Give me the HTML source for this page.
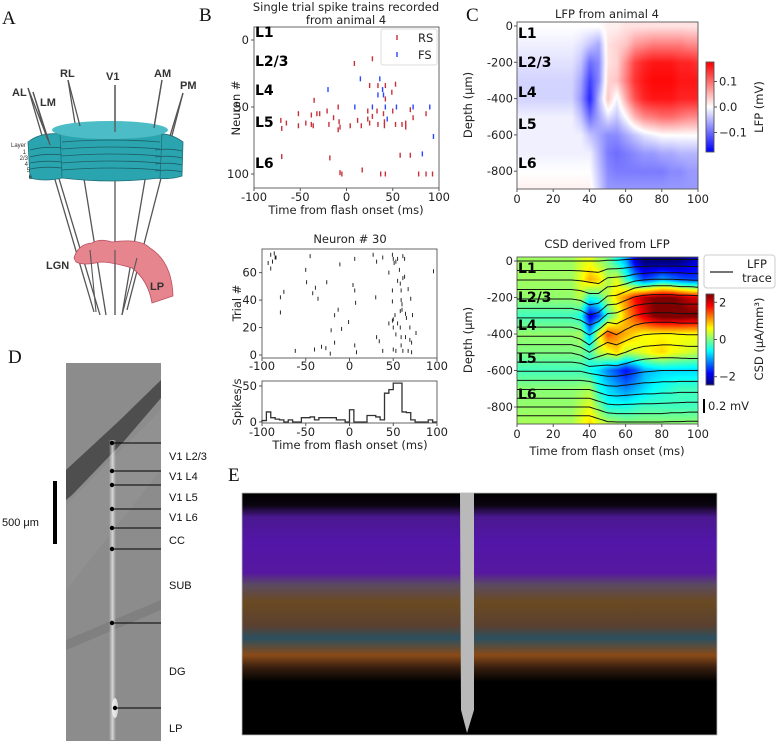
<!DOCTYPE html>
<html><head><meta charset="utf-8">
<style>
body{margin:0;background:#fff;width:781px;height:741px;overflow:hidden;position:relative;font-family:"DejaVu Sans","Liberation Sans",sans-serif}
canvas{position:absolute}
svg{position:absolute;left:0;top:0}
.t{font-size:11.5px;fill:#222}
.lab{font-size:14px;font-weight:bold;fill:#000}
.pl{font-family:"Liberation Serif",serif;font-size:19px;fill:#111}
.an{font-size:11px;fill:#111;font-family:"Liberation Sans",sans-serif}
</style></head><body>
<canvas id="lfp" width="181" height="167" style="left:517px;top:22px"></canvas>
<canvas id="lfpcb" width="8" height="90" style="left:706px;top:62px"></canvas>
<canvas id="csd" width="181" height="167" style="left:517px;top:257px"></canvas>
<canvas id="csdcb" width="8" height="91" style="left:706px;top:294px"></canvas>
<svg id="s" width="781" height="741" xmlns="http://www.w3.org/2000/svg">
<defs>
<linearGradient id="eg" x1="0" y1="0" x2="0" y2="1">
<stop offset="0" stop-color="#000"/>
<stop offset="0.05" stop-color="#0a0410"/>
<stop offset="0.1" stop-color="#4a1890"/>
<stop offset="0.2" stop-color="#5216a8"/>
<stop offset="0.33" stop-color="#5618a0"/>
<stop offset="0.38" stop-color="#5a4a60"/>
<stop offset="0.45" stop-color="#6a4a22"/>
<stop offset="0.55" stop-color="#5a4030"/>
<stop offset="0.6" stop-color="#2a5060"/>
<stop offset="0.67" stop-color="#8a4a18"/>
<stop offset="0.72" stop-color="#3a2010"/>
<stop offset="0.78" stop-color="#000"/>
<stop offset="1" stop-color="#000"/>
</linearGradient>
<linearGradient id="dg" x1="0" y1="0" x2="1" y2="0">
<stop offset="0" stop-color="#e0e0e0" stop-opacity="0"/><stop offset="0.5" stop-color="#e8e8e8" stop-opacity="0.8"/><stop offset="1" stop-color="#e0e0e0" stop-opacity="0"/>
</linearGradient>
</defs>

<!-- Panel A -->
<g>
<text class="pl" x="2" y="24">A</text>
<g stroke="#555" stroke-width="1.3">
<line x1="28" y1="88" x2="94" y2="312"/><line x1="33" y1="92" x2="100" y2="315"/>
<line x1="68" y1="80" x2="106" y2="315"/><line x1="115" y1="85" x2="115" y2="315"/>
<line x1="162" y1="80" x2="122" y2="315"/><line x1="183" y1="93" x2="127" y2="310"/>
</g>
<path d="M28,142 Q40,132 62,134 L62,178 Q45,182 30,178 Z" fill="#2aa5b0" stroke="#1f6f78" stroke-width="0.8"/>
<path d="M153,134 Q170,132 183,142 L182,176 Q170,180 155,178 Z" fill="#2aa5b0" stroke="#1f6f78" stroke-width="0.8"/>
<path d="M60,134 Q112,118 162,134 L160,178 Q112,184 62,178 Z" fill="#2aa5b0" stroke="#1f6f78" stroke-width="0.8"/>
<ellipse cx="110" cy="130" rx="58" ry="9" fill="#4cbcc6"/>
<g stroke="#1d5f66" stroke-width="0.8" fill="none">
<path d="M30,150 Q45,146 62,148"/><path d="M30,157 Q45,153 62,155"/><path d="M30,163 Q45,160 62,162"/><path d="M30,169 Q45,166 62,168"/>
<path d="M62,142 Q112,138 160,142"/><path d="M62,149 Q112,145 160,149"/><path d="M62,156 Q112,152 160,156"/><path d="M62,163 Q112,159 160,163"/><path d="M62,170 Q112,166 160,170"/>
<path d="M155,150 Q170,148 182,151"/><path d="M155,157 Q170,155 182,158"/><path d="M155,164 Q170,162 182,165"/><path d="M155,171 Q170,169 182,172"/>
</g>
<g stroke="#555" stroke-width="1.3">
<line x1="115" y1="132" x2="115" y2="85"/><line x1="80" y1="126" x2="68" y2="80"/><line x1="154" y1="128" x2="162" y2="80"/><line x1="170" y1="136" x2="183" y2="93"/><line x1="48" y1="140" x2="28" y2="88"/><line x1="50" y1="145" x2="33" y2="92"/>
</g>
<path d="M74,258 Q78,244 92,243 Q100,238 112,242 Q140,238 150,248 Q172,262 173,296 L152,303 Q148,280 132,268 Q112,262 100,262 Q84,266 76,262 Z" fill="#e7858e" stroke="#b85060" stroke-width="0.8"/>
<g stroke="#555" stroke-width="1.1"><line x1="115" y1="250" x2="115" y2="315"/><line x1="90" y1="250" x2="96" y2="312"/><line x1="137" y1="258" x2="122" y2="315"/></g>
<g font-family="Liberation Sans,sans-serif" font-weight="bold" font-size="11" fill="#333">
<text x="60" y="77">RL</text><text x="106" y="80">V1</text><text x="154" y="77">AM</text><text x="180" y="89">PM</text><text x="12" y="96">AL</text><text x="40" y="106">LM</text><text x="46" y="269">LGN</text><text x="150" y="290">LP</text>
</g>
<g font-family="Liberation Sans,sans-serif" font-size="6" fill="#333" text-anchor="end">
<text x="26" y="147">Layer</text><text x="26" y="154">1</text><text x="28" y="160">2/3</text><text x="28" y="166">4</text><text x="30" y="172">5</text><text x="32" y="179">6</text>
</g>
</g>

<!-- Panel B static -->
<text class="pl" x="199" y="21">B</text>
<text class="t" x="346" y="11" text-anchor="middle" font-size="11.5">Single trial spike trains recorded</text>
<text class="t" x="346" y="24" text-anchor="middle" font-size="11.5">from animal 4</text>
<text class="t" transform="translate(240,108) rotate(-90)" text-anchor="middle">Neuron #</text>
<text class="t" x="346" y="214" text-anchor="middle">Time from flash onset (ms)</text>
<text class="t" x="350" y="243" text-anchor="middle" font-size="11.5">Neuron # 30</text>
<text class="t" transform="translate(241,303) rotate(-90)" text-anchor="middle">Trial #</text>
<text class="t" transform="translate(241,402) rotate(-90)" text-anchor="middle" font-size="10">Spikes/s</text>
<text class="t" x="350" y="449" text-anchor="middle">Time from flash onset (ms)</text>

<!-- Panel C static -->
<text class="pl" x="466" y="21">C</text>
<text class="t" x="607" y="18" text-anchor="middle" font-size="13">LFP from animal 4</text>
<text class="t" transform="translate(472,105) rotate(-90)" text-anchor="middle">Depth (μm)</text>
<text class="t" transform="translate(763,107) rotate(-90)" text-anchor="middle">LFP (mV)</text>
<text class="t" x="607" y="248" text-anchor="middle" font-size="13">CSD derived from LFP</text>
<text class="t" transform="translate(472,340) rotate(-90)" text-anchor="middle">Depth (μm)</text>
<text class="t" x="607" y="455" text-anchor="middle">Time from flash onset (ms)</text>
<text class="t" transform="translate(763,339) rotate(-90)" text-anchor="middle">CSD (μA/mm³)</text>
<g>
<rect x="704" y="255" width="71" height="33" rx="3" fill="#fff" stroke="#ccc"/>
<line x1="710" y1="272" x2="733" y2="272" stroke="#222" stroke-width="1.3"/>
<text class="t" x="757" y="268" text-anchor="middle">LFP</text>
<text class="t" x="757" y="282" text-anchor="middle">trace</text>
</g>
<g>
<line x1="704" y1="399" x2="704" y2="413" stroke="#000" stroke-width="2"/>
<text class="t" x="708" y="410">0.2 mV</text>
</g>

<!-- Panel D -->
<g>
<text class="pl" x="8" y="363">D</text>
<rect x="66" y="363" width="95" height="378" fill="#8c8c8c"/>
<path d="M66,470 L120,420 L161,380 L161,398 L125,440 L72,495 L66,500 Z" fill="#3a3a3a" opacity="0.75"/>
<path d="M66,505 L161,410 L161,470 L66,590 Z" fill="#a0a0a0" opacity="0.3"/>
<path d="M66,640 L161,600 L161,610 L66,650 Z" fill="#6e6e6e" opacity="0.4"/>
<rect x="109" y="440" width="7" height="300" fill="url(#dg)"/>
<ellipse cx="115" cy="708" rx="3" ry="10" fill="#fff" opacity="0.7"/>
<g stroke="#000" stroke-width="1"><line x1="112" y1="443" x2="161" y2="443"/><line x1="112" y1="471" x2="161" y2="471"/><line x1="112" y1="485" x2="161" y2="485"/><line x1="112" y1="509" x2="161" y2="509"/><line x1="112" y1="528" x2="161" y2="528"/><line x1="112" y1="549" x2="161" y2="549"/><line x1="112" y1="623" x2="161" y2="623"/><line x1="115" y1="708" x2="161" y2="708"/></g>
<g fill="#000"><circle cx="112" cy="443" r="2.2"/><circle cx="112" cy="471" r="2.2"/><circle cx="112" cy="485" r="2.2"/><circle cx="112" cy="509" r="2.2"/><circle cx="112" cy="528" r="2.2"/><circle cx="112" cy="549" r="2.2"/><circle cx="112" cy="623" r="2.2"/><circle cx="115" cy="708" r="2.2"/></g>
<g class="an"><text x="169" y="460">V1 L2/3</text><text x="169" y="480">V1 L4</text><text x="169" y="501">V1 L5</text><text x="169" y="521">V1 L6</text><text x="169" y="544">CC</text><text x="169" y="589">SUB</text><text x="169" y="675">DG</text><text x="169" y="732">LP</text></g>
<rect x="53" y="481" width="4" height="63" fill="#000"/>
<text class="an" x="2" y="526" font-size="12">500 μm</text>
</g>

<!-- Panel E -->
<g>
<text class="pl" x="228" y="481">E</text>
<rect x="242" y="493" width="475" height="242" fill="url(#eg)"/>
<rect x="242" y="493" width="475" height="242" fill="none" stroke="#bbb" stroke-width="0.8"/>
<path d="M460,493 L474,493 L474,710 L467,733 L461,710 Z" fill="#b9b9b9"/>
</g>

<g id="plots"></g>
</svg>
<script>
// ---------- Data: Panel B, single trial raster ----------
const rsTimes=[8.5,28,25,34,42,53,49,42,-35,-52,-38,-32,-29,-21,-9,-14,23,33,40,50,69,86,72,-71,-70,-65,-52,-44,-38,-36,-19,-8,-7,-9,4,12,16,23,25,28,34,41,41,53,60,64,64,-70,-18,58,69,-7,-5,17,37,42,78,86,93];
const rsNeurons=[17.5,14,34,34,34,33,39,44,45,55,56,55,55,53,50,58,53,53,55,53,52,55,58,60,66,62,64,62,63,64,63,61,65,67,64,60,64,59,62,57,63,61,64,63,63,62,65,87,88,86,86,99,100,97,100,100,100,100,100];
const fsTimes=[-20,15,36,39,34,40,9,28,42,54,72,90,44,94,82];
const fsNeurons=[37,29,29,37,41,41,50,50,50,50,50,50,59,72,85];
const rasterXTicks=[-100,-50,0,50,100];
const rasterYTicks=[0,50,100];
const layerNames=["L1","L2/3","L4","L5","L6"];
// ---------- Data: Neuron 30 ----------
const n30Times=[-90,-86,-88,-85,-84,-93,-90,-45,-50,-49,-26,-39,-42,-36,-75,-79,-79,-11,6,4,6,7,-13,-17,-1,-9,-21,-17,6,8,-22,-27,-32,-40,-62,27,31,38,30,31,34,38,49,50,51,53,55,61,63,57,45,55,58,61,63,59,49,67,49,59,60,70,60,58,52,50,64,65,72,45,49,55,50,58,69,76,53,59,64,69,71,50,53,59,61,67,71,96];
const n30Trials=[73,74,68,71,71,67,63,72,62,53,53,49,45,41,46,42,31,66,70,51,47,38,33,29,24,19,18,9,7,2,1,5,6,4,3,73,68,71,42,13,10,3,73,70,67,68,70,72,70,62,60,54,52,56,57,47,47,48,39,40,37,41,33,32,29,26,30,27,29,23,25,23,20,20,20,16,15,13,13,11,9,4,3,7,3,3,2,61];
const n30YTicks=[0,20,40,60];
const psthRates=[2,14,6,4,3,0,3,0,0,6,6,7,3,6,6,6,6,3,3,0,17,0,0,0,9,9,7,3,40,45,54,54,14,13,3,0,0,0,3,0];
const psthBinStart=-100, psthBinWidth=5;
const psthYTicks=[0,50];
// ---------- Data: LFP / CSD grids (rows depth 0..-900 step 100, cols t 0..100 step 5) ----------
const gridDepths=[0,-100,-200,-300,-400,-500,-600,-700,-800,-900];
const gridTimes=[0,5,10,15,20,25,30,35,40,45,50,55,60,65,70,75,80,85,90,95,100];
const lfpValues=[
[0,0,0,0,0,0,0,0,0,0,0.01,0.01,0.02,0.02,0.02,0.02,0.02,0.02,0.02,0.02,0.02],
[-0.01,-0.01,-0.01,-0.01,-0.01,-0.01,-0.01,-0.02,-0.04,-0.06,0.02,0.03,0.04,0.07,0.08,0.09,0.09,0.09,0.09,0.08,0.08],
[-0.02,-0.02,-0.02,-0.02,-0.02,-0.02,-0.02,-0.04,-0.1,-0.08,0.02,0.03,0.08,0.13,0.15,0.16,0.16,0.16,0.15,0.15,0.14],
[-0.03,-0.03,-0.03,-0.03,-0.03,-0.03,-0.03,-0.06,-0.13,-0.08,0.03,0.04,0.09,0.14,0.16,0.17,0.17,0.17,0.16,0.16,0.16],
[-0.03,-0.03,-0.03,-0.03,-0.03,-0.03,-0.03,-0.07,-0.15,-0.05,0.04,-0.01,0.06,0.12,0.15,0.16,0.16,0.16,0.15,0.15,0.15],
[-0.01,-0.01,-0.01,-0.01,-0.01,-0.01,-0.01,-0.04,-0.1,-0.06,-0.02,-0.04,0,0.05,0.08,0.09,0.1,0.1,0.09,0.08,0.08],
[-0.01,-0.01,-0.01,-0.01,-0.01,-0.01,-0.01,-0.01,-0.04,-0.06,-0.08,-0.08,-0.06,-0.04,-0.02,-0.01,0,0,0,0,0],
[-0.01,-0.01,-0.01,-0.01,-0.01,-0.01,-0.01,-0.01,-0.01,-0.05,-0.09,-0.1,-0.09,-0.08,-0.07,-0.07,-0.06,-0.06,-0.05,-0.05,-0.05],
[0,0,0,0,0,0,0,0,0,-0.04,-0.08,-0.09,-0.09,-0.09,-0.09,-0.09,-0.09,-0.08,-0.08,-0.07,-0.07],
[0.01,0.01,0.01,0.01,0.01,0.01,0.01,0.01,0.01,-0.03,-0.07,-0.07,-0.07,-0.07,-0.07,-0.07,-0.07,-0.07,-0.07,-0.07,-0.07]];
const csdValues=[
[0.15,0.15,0.15,0.15,0.15,0.15,0.15,0.4,0.5,0.2,0,-0.5,-1,-2,-2.5,-2.5,-2.5,-2.5,-2.4,-2.2,-2],
[0.15,0.15,0.15,0.15,0.15,0.15,0.15,0.5,1.0,0.8,0.2,0.5,-0.3,-1,-1.5,-1.3,-1,-1.2,-1.4,-1.5,-1.5],
[0.1,0.1,0.1,0.1,0.1,0.1,0.1,0.3,-0.5,-0.3,0.3,0.8,1.2,1.8,2.2,2.4,2.5,2.5,2.3,2.1,2],
[-0.3,-0.3,-0.3,-0.3,-0.3,-0.3,-0.3,-0.5,-2,-1.5,-0.3,0.3,1,1.5,2,2.4,2.6,2.6,2.6,2.5,2.5],
[0.1,0.1,0.1,0.1,0.1,0.1,0.1,0.2,-1,0.5,1.5,1.2,1,0.8,0.6,0.6,0.6,0.6,0.6,0.6,0.6],
[0,0,0,0,0,0,0,0,-0.3,0.3,0.5,0.8,0.3,0.4,0.5,0.7,0.8,0.6,0.5,0.4,0.3],
[-0.3,-0.3,-0.3,-0.3,-0.3,-0.3,-0.3,-0.3,-0.5,-0.8,-1.2,-1.5,-1.8,-1.5,-1,-0.9,-0.8,-0.8,-0.8,-0.8,-0.8],
[0.05,0.05,0.05,0.05,0.05,0.05,0.05,0.1,0.2,-0.5,-0.8,-1,-1.2,-1,-0.8,-0.6,-0.5,-0.4,-0.3,-0.3,-0.3],
[0.1,0.1,0.1,0.1,0.1,0.1,0.1,0.3,0.5,0,-0.5,-0.5,-0.5,-0.4,-0.3,-0.3,-0.3,-0.3,-0.3,-0.3,-0.3],
[0.2,0.2,0.2,0.2,0.2,0.2,0.2,0.5,0.8,0.5,0.3,0.2,0.1,0.1,0.1,0.1,0.1,0.1,0.1,0.1,0.1]];
const traceDepths=[0,-50,-100,-150,-200,-250,-300,-350,-400,-450,-500,-550,-600,-650,-700,-750,-800,-850];
const depthTicks=[0,-200,-400,-600,-800];
const timeTicks=[0,20,40,60,80,100];
const lfpCbTicks=[0.1,0.0,-0.1];
const csdCbTicks=[2,0,-2];

const NS="http://www.w3.org/2000/svg";
const root=document.getElementById('plots');
function mk(tag,parent){const e=document.createElementNS(NS,tag);(parent||root).appendChild(e);return e;}
function txt(s,x,y,anchor,cls,parent){const e=mk('text',parent);e.setAttribute('x',x);e.setAttribute('y',y);e.setAttribute('text-anchor',anchor);e.setAttribute('class',cls);e.textContent=s;return e;}
function box(x0,y0,x1,y1){const r=mk('rect');r.setAttribute('x',x0);r.setAttribute('y',y0);r.setAttribute('width',x1-x0);r.setAttribute('height',y1-y0);r.setAttribute('fill','none');r.setAttribute('stroke','#555');r.setAttribute('stroke-width','0.9');


return r;}
function tickY(y,x){const l=mk('line');l.setAttribute('x1',x-3);l.setAttribute('x2',x);l.setAttribute('y1',y);l.setAttribute('y2',y);l.setAttribute('stroke','#555');}
function tickX(x,y){const l=mk('line');l.setAttribute('x1',x);l.setAttribute('x2',x);l.setAttribute('y1',y);l.setAttribute('y2',y+3);l.setAttribute('stroke','#555');}
function fmt(v){return v<0?'-'+Math.abs(v):String(v);}

// ----- Panel B upper raster -----
const bx=t=>254+(t+100)/200*185, by=n=>40+n*1.34;
box(254,27,439,188);
rasterXTicks.forEach(v=>{tickX(bx(v),188);const e=txt(fmt(v),bx(v),201,'middle','t');

});
rasterYTicks.forEach(v=>{tickY(by(v),254);const e=txt(String(v),249,by(v)+4,'end','t');

});
const bLayerY=[37,66,95,127,168];
layerNames.forEach((s,i)=>{const e=txt(s,255,bLayerY[i],'start','lab');

});
rsTimes.forEach((t,i)=>{const l=mk('line');l.setAttribute('x1',bx(t));l.setAttribute('x2',bx(t));l.setAttribute('y1',by(rsNeurons[i])-2.5);l.setAttribute('y2',by(rsNeurons[i])+2.5);l.setAttribute('stroke','#c8303a');l.setAttribute('stroke-width','1.4');

});
fsTimes.forEach((t,i)=>{const l=mk('line');l.setAttribute('x1',bx(t));l.setAttribute('x2',bx(t));l.setAttribute('y1',by(fsNeurons[i])-2.5);l.setAttribute('y2',by(fsNeurons[i])+2.5);l.setAttribute('stroke','#2848ff');l.setAttribute('stroke-width','1.4');

});
{const g=mk('g');
const r=mk('rect',g);r.setAttribute('x',381);r.setAttribute('y',29);r.setAttribute('width',56);r.setAttribute('height',36);r.setAttribute('fill','#fff');r.setAttribute('stroke','#ddd');r.setAttribute('rx',2);
[['RS','#c8303a',38],['FS','#2848ff',55]].forEach(a=>{const l=mk('line',g);l.setAttribute('x1',397);l.setAttribute('x2',397);l.setAttribute('y1',a[2]-3);l.setAttribute('y2',a[2]+2);l.setAttribute('stroke',a[1]);l.setAttribute('stroke-width','1.4');txt(a[0],418,a[2]+4,'start','t',g);});}

// ----- Neuron 30 raster -----
const nx=t=>262+(t+100)/200*175, ny=n=>355-n*1.373;
box(262,249,437,358);
n30YTicks.forEach(v=>{tickY(ny(v),262);const e=txt(String(v),257,ny(v)+4,'end','t');

});
rasterXTicks.forEach(v=>{tickX(nx(v),358);const e=txt(fmt(v),nx(v),370,'middle','t');

});
n30Times.forEach((t,i)=>{const l=mk('line');l.setAttribute('x1',nx(t));l.setAttribute('x2',nx(t));l.setAttribute('y1',ny(n30Trials[i])-2);l.setAttribute('y2',ny(n30Trials[i])+2);l.setAttribute('stroke','#111');l.setAttribute('stroke-width','0.9');

});

// ----- PSTH -----
const py=v=>422-v*0.72;
box(262,381,437,423);
psthYTicks.forEach(v=>{tickY(py(v),262);const e=txt(String(v),257,py(v)+4,'end','t');

});
rasterXTicks.forEach(v=>{tickX(nx(v),423);const e=txt(fmt(v),nx(v),436,'middle','t');

});
{let d='M'+nx(psthBinStart)+','+py(0);
psthRates.forEach((r,i)=>{const a=psthBinStart+i*psthBinWidth;d+=' L'+nx(a)+','+py(r)+' L'+nx(a+psthBinWidth)+','+py(r);});
const p=mk('path');p.setAttribute('d',d);p.setAttribute('fill','none');p.setAttribute('stroke','#333');p.setAttribute('stroke-width','1.3');

}

// ----- heatmaps -----
function interp(grid,t,d){
  let fi=(-d)/100, fj=t/5;
  fi=Math.max(0,Math.min(gridDepths.length-1,fi)); fj=Math.max(0,Math.min(gridTimes.length-1,fj));
  const i0=Math.floor(fi),j0=Math.floor(fj),i1=Math.min(i0+1,gridDepths.length-1),j1=Math.min(j0+1,gridTimes.length-1);
  const a=fi-i0,b=fj-j0;
  return (grid[i0][j0]*(1-b)+grid[i0][j1]*b)*(1-a)+(grid[i1][j0]*(1-b)+grid[i1][j1]*b)*a;
}
function bwr(n){n=Math.max(-1,Math.min(1,n));return n<0?[255*(1+n),255*(1+n),255]:[255,255*(1-n),255*(1-n)];}
function jet(n){n=Math.max(0,Math.min(1,n));const c=x=>255*Math.max(0,Math.min(1,x));return [c(1.5-Math.abs(4*n-3)),c(1.5-Math.abs(4*n-2)),c(1.5-Math.abs(4*n-1))];}
function paint(id,grid,cmap,vmax,yTop){
  const cv=document.getElementById(id),ctx=cv.getContext('2d'),W=cv.width,H=cv.height,img=ctx.createImageData(W,H);
  for(let y=0;y<H;y++){const d=-((y+yTop)/0.1815);for(let x=0;x<W;x++){const t=x/1.81;const v=interp(grid,t,d);
    const c=cmap===bwr?bwr(v/vmax):jet((v/vmax+1)/2);const k=(y*W+x)*4;img.data[k]=c[0];img.data[k+1]=c[1];img.data[k+2]=c[2];img.data[k+3]=255;}}
  ctx.putImageData(img,0,0);
}
paint('lfp',lfpValues,bwr,0.175,-4);
paint('csd',csdValues,jet,2.45,-4);
function cbar(id,cmap){const cv=document.getElementById(id),ctx=cv.getContext('2d');for(let y=0;y<cv.height;y++){const n=1-2*y/(cv.height-1);const c=cmap===bwr?bwr(n):jet((n+1)/2);ctx.fillStyle='rgb('+c.map(Math.round).join(',')+')';ctx.fillRect(0,y,cv.width,1);}}
cbar('lfpcb',bwr);cbar('csdcb',jet);

const cx=t=>517+t*1.81;
const ly=d=>26-d*0.1815, sy=d=>261-d*0.1825;
box(517,22,698,189);box(517,257,698,424);
box(706,62,714,152);box(706,294,714,385);
depthTicks.forEach(v=>{tickY(ly(v),517);let e=txt(fmt(v),513,ly(v)+4,'end','t');


tickY(sy(v),517);e=txt(fmt(v),513,sy(v)+4,'end','t');

});
timeTicks.forEach(v=>{tickX(cx(v),189);let e=txt(String(v),cx(v),203,'middle','t');


tickX(cx(v),424);e=txt(String(v),cx(v),438,'middle','t');

});
lfpCbTicks.forEach(v=>{const y=107-v*255;const l=mk('line');l.setAttribute('x1',714);l.setAttribute('x2',717);l.setAttribute('y1',y);l.setAttribute('y2',y);l.setAttribute('stroke','#555');
const e=txt(v===0?'0.0':(v<0?'\u22120.1':'0.1'),719,y+4,'start','t');

});
csdCbTicks.forEach(v=>{const y=339.5-v*18.6;const l=mk('line');l.setAttribute('x1',714);l.setAttribute('x2',717);l.setAttribute('y1',y);l.setAttribute('y2',y);l.setAttribute('stroke','#555');
const e=txt(v<0?'\u2212'+Math.abs(v):String(v),719,y+4,'start','t');

});
const cLayerY=[38,67,97,129,168], sLayerY=[273,302,330,363,399];
layerNames.forEach((s,i)=>{let e=txt(s,518,cLayerY[i],'start','lab');


e=txt(s,518,sLayerY[i],'start','lab');

});
traceDepths.forEach(d=>{let p='';for(let t=0;t<=100;t+=1){const v=interp(lfpValues,t,d);p+=(t?' L':'M')+cx(t).toFixed(1)+','+sy(d+v*400).toFixed(1);}
const e=mk('path');e.setAttribute('d',p);e.setAttribute('fill','none');e.setAttribute('stroke','#111');e.setAttribute('stroke-width','1');

});
</script>
</body></html>
